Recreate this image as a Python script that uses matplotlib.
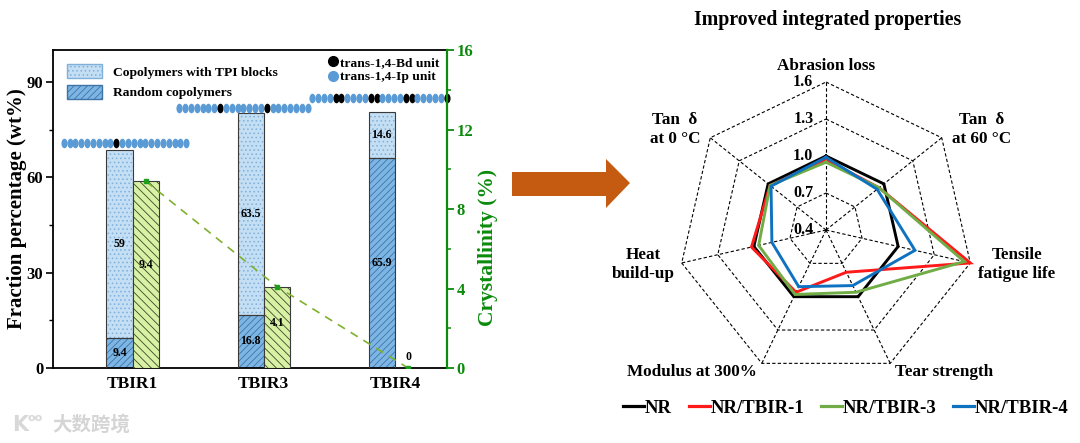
import numpy as np
import matplotlib
matplotlib.use('Agg')
import matplotlib.pyplot as plt
from matplotlib.patches import Patch, Polygon
from matplotlib.lines import Line2D
from matplotlib.path import Path
from matplotlib.transforms import Affine2D

# ---------------- data ----------------
samples = ['TBIR1', 'TBIR3', 'TBIR4']
random_copolymers = [9.4, 16.8, 65.9]
tpi_block_copolymers = [59, 63.5, 14.6]
crystallinity = [9.4, 4.1, 0]

# chain sketches: I = trans-1,4-Ip unit, B = trans-1,4-Bd unit
chain_patterns = ['IIIIIIIIIBIIIIIIIIIIII',
                  'IIIIIIIBIIIIIIIBIIIIIII',
                  'IIIIBBIIIIBBIIIIBBIIIIIB']

radar_labels = ['Abrasion loss', 'Tan  δ\nat 60 °C', 'Tensile\nfatigue life',
                'Tear strength', 'Modulus at 300%', 'Heat\nbuild-up', 'Tan  δ\nat 0 °C']
radar_ticks = [0.4, 0.7, 1.0, 1.3, 1.6]
series_names = ['NR', 'NR/TBIR-1', 'NR/TBIR-3', 'NR/TBIR-4']
nr = [1.0, 1.0, 1.0, 1.0, 1.0, 1.0, 1.0]
nr_tbir1 = [0.97, 0.95, 1.60, 0.78, 0.96, 1.02, 0.98]
nr_tbir3 = [0.95, 0.95, 1.55, 0.96, 0.98, 0.96, 0.98]
nr_tbir4 = [0.99, 0.93, 1.14, 0.90, 0.91, 0.85, 0.97]

# ---------------- style ----------------
plt.rcParams['font.family'] = ['Liberation Serif', 'DejaVu Serif']
plt.rcParams['font.weight'] = 'bold'
plt.rcParams['hatch.linewidth'] = 0.6
GREEN = '#0b8a0b'

W, H = 1080, 443
fig = plt.figure(figsize=(W / 100, H / 100), dpi=100)

def fx(px):
    return px / W

def fy(py):
    return (H - py) / H

# ---------------- left: bar chart ----------------
ax = fig.add_axes([fx(53), fy(368), fx(447) - fx(53), fy(50) - fy(368)])
ax2 = ax.twinx()
ax.set_xlim(-0.607, 2.397)
ax.set_ylim(0, 100)
ax2.set_ylim(0, 16)

x = np.arange(len(samples))
bw = 0.2
xb = x - bw / 2
xg = x + bw / 2

rand_face, rand_hatch = '#7db6e4', '#3f73a6'
tpi_face, tpi_hatch = '#c4def3', '#7fb0da'
gr_face, gr_hatch = '#d8f1a4', '#3a4a2a'
edge = '#3a3a3a'

# random copolymers (bottom)
ax.bar(xb, random_copolymers, bw, color=rand_face, edgecolor=rand_hatch, hatch='/////', lw=0, zorder=2)
ax.bar(xb, random_copolymers, bw, fill=False, edgecolor=edge, lw=0.8, zorder=3)
# TPI block copolymers (top)
ax.bar(xb, tpi_block_copolymers, bw, bottom=random_copolymers, color=tpi_face,
       edgecolor=tpi_hatch, hatch='....', lw=0, zorder=2)
ax.bar(xb, tpi_block_copolymers, bw, bottom=random_copolymers, fill=False, edgecolor=edge, lw=0.8, zorder=3)
# crystallinity bars
ax2.bar(xg, crystallinity, bw, color=gr_face, edgecolor=gr_hatch, hatch='\\\\\\\\', lw=0, zorder=2)
ax2.bar(xg, crystallinity, bw, fill=False, edgecolor=edge, lw=0.8, zorder=3)
ax2.plot(xg, crystallinity, ls=(0, (5, 4)), color='#7fb030', lw=1.2, marker='s', ms=3,
         mfc='#1e9e1e', mec='#1e9e1e', zorder=4)

lab_kw = dict(ha='center', va='center', fontsize=8.5, fontweight='bold', zorder=5)
for i in range(len(samples)):
    ax.text(xb[i], random_copolymers[i] / 2, f'{random_copolymers[i]:g}', **lab_kw)
    ax.text(xb[i], random_copolymers[i] + tpi_block_copolymers[i] / 2, f'{tpi_block_copolymers[i]:g}', **lab_kw)
    if crystallinity[i] > 0:
        ax2.text(xg[i], crystallinity[i] * 0.55, f'{crystallinity[i]:g}', **lab_kw)
    else:
        ax2.text(xg[i], 0.55, f'{crystallinity[i]:g}', **lab_kw)

# molecular chain sketches
bead = Path.unit_circle().transformed(Affine2D().scale(0.64, 1.0))
chain_x0 = [-0.525, 0.355, 1.37]
chain_y = [70.8, 81.8, 84.9]
step = 0.0445
for pat, x0, y0 in zip(chain_patterns, chain_x0, chain_y):
    for k, c in enumerate(pat):
        ax.plot(x0 + k * step, y0, marker=bead, ms=6.9, ls='none',
                color='#000000' if c == 'B' else '#5b9bd5', mec='none', zorder=4, clip_on=False)

# axes styling
ax.set_xticks(x)
ax.set_xticklabels(samples, fontsize=12.5, fontweight='bold')
ax.tick_params(axis='x', length=0, pad=6)
ax.set_yticks([0, 30, 60, 90])
ax.set_yticks([15, 45, 75], minor=True)
ax.tick_params(axis='y', which='major', length=5, width=1.2, labelsize=12, direction='out', pad=2)
ax.tick_params(axis='y', which='minor', length=3, width=1.0, direction='out')
ax.set_ylabel('Fraction percentage (wt%)', fontsize=15, fontweight='bold')
ax.yaxis.set_label_coords(-0.066, 0.5)
for s in ['left', 'top', 'bottom']:
    ax.spines[s].set_linewidth(1.3)
ax.spines['right'].set_visible(False)

ax2.set_yticks([0, 4, 8, 12, 16])
ax2.set_yticks([2, 6, 10, 14], minor=True)
ax2.tick_params(axis='y', which='major', length=5, width=1.3, colors=GREEN, labelsize=12, pad=2)
ax2.tick_params(axis='y', which='minor', length=3, width=1.1, colors=GREEN)
for s in ['left', 'top', 'bottom']:
    ax2.spines[s].set_visible(False)
ax2.spines['right'].set_color(GREEN)
ax2.spines['right'].set_linewidth(1.6)
ax2.set_ylabel('Crystallinity (%)', fontsize=15.5, fontweight='bold', color=GREEN, rotation=90)
ax2.yaxis.set_label_coords(1.078, 0.38)

# legends
leg_font = dict(size=9.7, weight='bold')
h1 = [Patch(facecolor=tpi_face, edgecolor=tpi_hatch, hatch='....'),
      Patch(facecolor=rand_face, edgecolor=rand_hatch, hatch='/////')]
l1 = ax2.legend(h1, ['Copolymers with TPI blocks', 'Random copolymers'], loc='upper left',
                bbox_to_anchor=(0.005, 0.995), frameon=False, prop=leg_font,
                handlelength=2.6, handleheight=1.3, handletextpad=0.8, labelspacing=0.45)
ax2.add_artist(l1)
h2 = [Line2D([], [], ls='none', marker='o', ms=7, color='#000000'),
      Line2D([], [], ls='none', marker='o', ms=7, color='#5b9bd5')]
ax2.legend(h2, ['trans-1,4-Bd unit', 'trans-1,4-Ip unit'], loc='upper right',
           bbox_to_anchor=(1.0, 1.005), frameon=False, prop=leg_font,
           handlelength=0.6, handletextpad=0.15, labelspacing=0.15, borderaxespad=0.2)

# ---------------- arrow ----------------
arrow_px = [(512, 172), (606, 172), (606, 159), (630, 183), (606, 208), (606, 196), (512, 196)]
fig.patches.append(Polygon([(fx(a), fy(b)) for a, b in arrow_px], closed=True,
                           facecolor='#c55a11', edgecolor='none', transform=fig.transFigure))

# ---------------- right: radar ----------------
rax = fig.add_axes([fx(600), fy(390), fx(1060) - fx(600), fy(40) - fy(390)])
rax.set_xlim(-1.527, 1.581)
rax.set_ylim(-1.081, 1.284)
rax.axis('off')

n = len(radar_labels)
ang = np.pi / 2 - np.arange(n) * 2 * np.pi / n
vmin, vmax = radar_ticks[0], radar_ticks[-1]

def xy(vals):
    r = (np.asarray(vals, float) - vmin) / (vmax - vmin)
    return np.append(r * np.cos(ang), r[0] * np.cos(ang[0])), np.append(r * np.sin(ang), r[0] * np.sin(ang[0]))

for t in radar_ticks[1:]:
    gx, gy = xy([t] * n)
    rax.plot(gx, gy, ls=(0, (3, 2)), color='black', lw=0.8, zorder=1)
for a in ang:
    rax.plot([0, np.cos(a)], [0, np.sin(a)], ls=(0, (3, 2)), color='black', lw=0.8, zorder=1)
for t in radar_ticks:
    rr = (t - vmin) / (vmax - vmin)
    rax.text(-0.085, rr, f'{t:.1f}', ha='right', va='center', fontsize=11.5, fontweight='bold', zorder=6)

colors = ['#000000', '#ff1a1a', '#70ad47', '#0f72c0']
handles = []
for vals, col, name in zip([nr, nr_tbir1, nr_tbir3, nr_tbir4], colors, series_names):
    px_, py_ = xy(vals)
    rax.plot(px_, py_, color=col, lw=2.1, solid_joinstyle='miter', zorder=3)
    handles.append(Line2D([], [], color=col, lw=2.3))

label_pos = [(0.0, 1.108), (1.054, 0.676), (1.29, -0.236), (0.80, -0.96),
             (-0.905, -0.96), (-1.236, -0.236), (-1.02, 0.676)]
for lab, (lx, ly) in zip(radar_labels, label_pos):
    rax.text(lx, ly, lab, ha='center', va='center', fontsize=12.3, fontweight='bold',
             linespacing=1.25, multialignment='center')

fig.text(fx(828), fy(20), 'Improved integrated properties', ha='center', va='center',
         fontsize=14.3, fontweight='bold')
fig.legend(handles, series_names, loc='center', bbox_to_anchor=(fx(846), fy(408)), ncol=4,
           frameon=False, prop=dict(size=13.5, weight='bold'), handlelength=1.1,
           handletextpad=0.05, columnspacing=0.9)

# watermark
fig.text(fx(12), fy(425), 'K', fontsize=15, color='#d8d8d8', ha='left', va='center',
         fontfamily=['DejaVu Sans'])
fig.text(fx(28), fy(418), 'oo', fontsize=8, color='#d8d8d8', ha='left', va='center',
         fontfamily=['DejaVu Sans'])
fig.text(fx(52), fy(425), '大数跨境', fontsize=14, color='#d5d5d5', ha='left', va='center',
         fontfamily=['Noto Sans CJK SC', 'DejaVu Sans'])

fig.savefig('out.png', dpi=100)
